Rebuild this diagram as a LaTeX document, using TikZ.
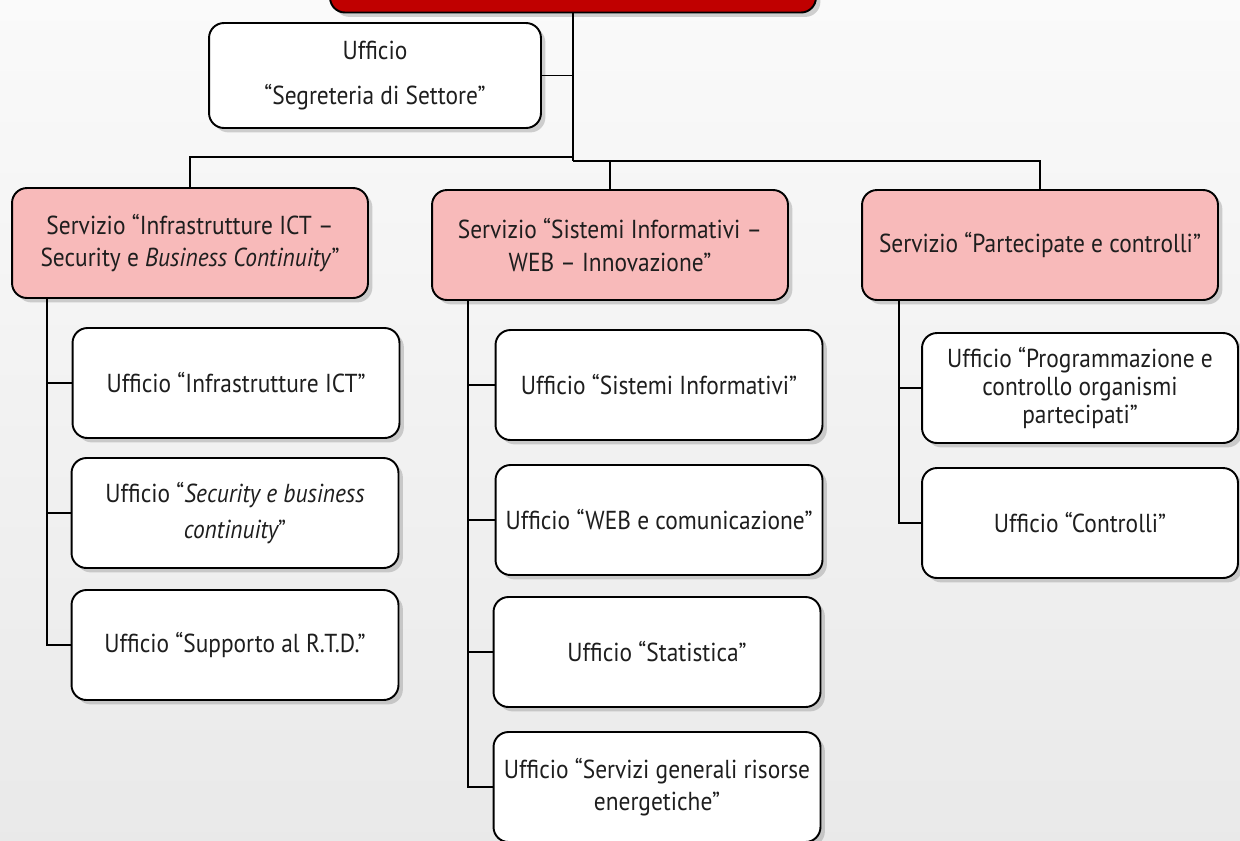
\documentclass[tikz,border=0pt]{standalone}
\usepackage{fontspec}
\setmainfont[FakeStretch=0.9]{PT Sans}
\usetikzlibrary{shadows}
\definecolor{rosa}{RGB}{248,186,186}
\definecolor{rosso}{RGB}{192,0,0}
\definecolor{testo}{RGB}{30,30,30}
\tikzset{
  box/.style={draw=black, line width=1.1pt, rounded corners=8.5pt, align=center, text=testo,
    font=\fontsize{14.8}{18.5}\selectfont,
    drop shadow={shadow xshift=2.5pt, shadow yshift=-2.5pt, opacity=.35}},
  servizio/.style={box, fill=rosa, minimum width=7.12cm, minimum height=2.2cm},
  ufficio/.style={box, fill=white, minimum width=6.54cm, minimum height=2.2cm},
  linea/.style={line width=1.1pt}
}
\begin{document}
\begin{tikzpicture}[x=0.02cm, y=-0.02cm]
    \useasboundingbox (0,0) rectangle (1240,840);
    \shade[top color=gray!4, bottom color=gray!17] (0,0) rectangle (1240,840);

    % direzione e segreteria
    \node[box, fill=rosso, minimum width=9.72cm, minimum height=1.3cm] (dir) at (573,-20) {};
    \node[ufficio, minimum width=6.64cm, minimum height=2.1cm, font=\fontsize{14.8}{26}\selectfont] (segr) at (375,75.5) {Ufficio\\“Segreteria di Settore”};

    % servizi
    \node[servizio] (s1) at (190,243) {Servizio “Infrastrutture ICT –\\Security e \textit{Business Continuity}”};
    \node[servizio] (s2) at (610,245) {Servizio “Sistemi Informativi –\\WEB – Innovazione”};
    \node[servizio] (s3) at (1040,245) {Servizio “Partecipate e controlli”};

    % uffici
    \node[ufficio] (u11) at (236,383) {Ufficio “Infrastrutture ICT”};
    \node[ufficio, font=\fontsize{14.8}{21}\selectfont] (u12) at (235,513) {Ufficio “{\itshape Security e business}\\{\itshape continuity}”};
    \node[ufficio] (u13) at (235,645) {Ufficio “Supporto al R.T.D.”};
    \node[ufficio] (u21) at (659,385) {Ufficio “Sistemi Informativi”};
    \node[ufficio] (u22) at (659,520) {Ufficio “WEB e comunicazione”};
    \node[ufficio] (u23) at (657,652) {Ufficio “Statistica”};
    \node[ufficio] (u24) at (657,787) {Ufficio “Servizi generali risorse\\energetiche”};
    \node[ufficio, minimum width=6.32cm, font=\fontsize{14.8}{16}\selectfont] (u31) at (1080,388) {Ufficio “Programmazione e\\controllo organismi\\partecipati”};
    \node[ufficio, minimum width=6.32cm] (u32) at (1080,523) {Ufficio “Controlli”};

    % collegamenti
    \coordinate (hub) at (573,161);
    \coordinate (hubl) at (573,157);
    \draw[linea] (dir) -- (hub);
    \draw[linea] (segr.east) -- (segr.east -| hub);
    \draw[linea] (hubl) -| (s1);
    \draw[linea] (hub) -| (s2);
    \draw[linea] (hub) -| (s3);

    \coordinate (sp1) at (47,298);
    \coordinate (sp2) at (468,300);
    \coordinate (sp3) at (899,300);
    \foreach \u in {u11,u12,u13} \draw[linea] (sp1) |- (\u);
    \foreach \u in {u21,u22,u23,u24} \draw[linea] (sp2) |- (\u);
    \foreach \u in {u31,u32} \draw[linea] (sp3) |- (\u);
\end{tikzpicture}
\end{document}
